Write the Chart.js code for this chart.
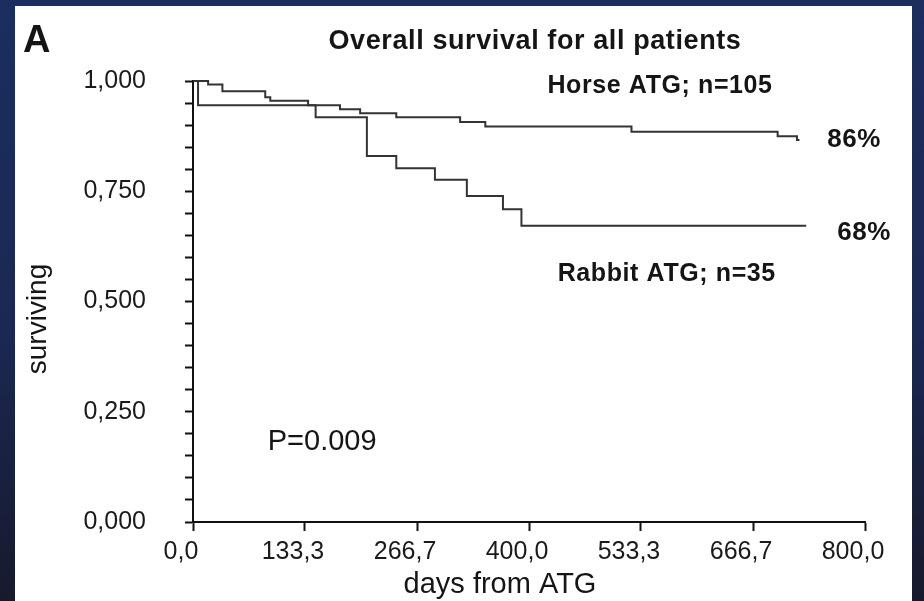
<!DOCTYPE html>
<html>
<head>
<meta charset="utf-8">
<script src="https://cdn.jsdelivr.net/npm/chart.js@4.4.1/dist/chart.umd.min.js"></script>
<style>
  html, body { margin: 0; padding: 0; }
  body {
    width: 924px; height: 601px; position: relative; overflow: hidden;
    background: linear-gradient(180deg, #1b2e5f 0%, #1b2853 55%, #171a2d 100%);
  }
  #panel { position: absolute; left: 15px; top: 6px; width: 897px; height: 595px; background: #fff; }
  #survival-chart { position: absolute; left: 0; top: 0; }
</style>
</head>
<body>
<div id="panel"></div>
<canvas id="survival-chart" width="924" height="601"></canvas>
<script>
// Kaplan-Meier steps (days, fraction surviving)
const horseDays = [0, 18, 35, 86, 92, 137, 175, 199, 242, 318, 348, 522, 696, 719, 722];
const horseSurv = [1.0, 0.992, 0.977, 0.963, 0.955, 0.945, 0.936, 0.927, 0.918, 0.907, 0.897, 0.885, 0.875, 0.866, 0.866];

const rabbitDays = [0, 6, 146, 207, 242, 288, 326, 369, 391, 730];
const rabbitSurv = [1.0, 0.945, 0.918, 0.830, 0.802, 0.776, 0.739, 0.709, 0.672, 0.672];

const xTicks = [0, 133.3, 266.7, 400, 533.3, 666.7, 800];
const xTickLabels = ['0,0', '133,3', '266,7', '400,0', '533,3', '666,7', '800,0'];
const yTickLabels = ['0,000', '0,250', '0,500', '0,750', '1,000'];

const panelLetter = 'A';
const chartTitle = 'Overall survival for all patients';
const xTitle = 'days from ATG';
const yTitle = 'surviving';
const horseLabel = 'Horse ATG; n=105';
const rabbitLabel = 'Rabbit ATG; n=35';
const horseEnd = '86%';
const rabbitEnd = '68%';
const pValue = 'P=0.009';

const FONT = '"Liberation Sans", Arial, Helvetica, sans-serif';
Chart.defaults.font.family = FONT;

const toPoints = (days, surv) => days.map((d, i) => ({ x: d, y: surv[i] }));

// free text (panel letter, title, axis names, curve labels)
const textLabels = {
    id: 'textLabels',
    afterDraw(chart) {
        const { ctx, scales: { x, y } } = chart;
        ctx.save();
        ctx.fillStyle = '#151515';
        ctx.textBaseline = 'middle';

        ctx.font = 'bold 38px ' + FONT;
        ctx.textAlign = 'left';
        ctx.fillText(panelLetter, 23, 42);

        ctx.letterSpacing = '0.6px';
        ctx.font = 'bold 27px ' + FONT;
        ctx.textAlign = 'center';
        ctx.fillText(chartTitle, 535, 42);

        ctx.font = 'bold 25px ' + FONT;
        ctx.fillText(horseLabel, x.getPixelForValue(556), y.getPixelForValue(0.988));
        ctx.fillText(rabbitLabel, x.getPixelForValue(564), y.getPixelForValue(0.563));
        ctx.font = 'bold 26px ' + FONT;
        ctx.fillText(horseEnd, x.getPixelForValue(787), y.getPixelForValue(0.867));
        ctx.fillText(rabbitEnd, x.getPixelForValue(799), y.getPixelForValue(0.655));
        ctx.letterSpacing = '0px';

        ctx.font = '29px ' + FONT;
        ctx.textAlign = 'left';
        ctx.fillText(pValue, x.getPixelForValue(89), y.getPixelForValue(0.181));

        ctx.textAlign = 'center';
        ctx.fillText(xTitle, 500, 585);

        ctx.translate(38, 319);
        ctx.rotate(-Math.PI / 2);
        ctx.font = '28px ' + FONT;
        ctx.fillText(yTitle, 0, 0);
        ctx.restore();
    }
};

const ctx = document.getElementById('survival-chart');

let survivalChart = new Chart(ctx, {
    type: 'line',
    data: {
        datasets: [{
            label: horseLabel,
            data: toPoints(horseDays, horseSurv),
            stepped: 'before',
            borderColor: '#333',
            borderWidth: 2,
            pointRadius: 0,
            fill: false,
            clip: false,
        }, {
            label: rabbitLabel,
            data: toPoints(rabbitDays, rabbitSurv),
            stepped: 'before',
            borderColor: '#333',
            borderWidth: 2,
            pointRadius: 0,
            fill: false,
            clip: false,
        }]
    },
    options: {
        responsive: false,
        animation: false,
        layout: { padding: { left: 15, top: 81, right: 59, bottom: 0 } },
        plugins: {
            legend: { display: false },
            tooltip: { enabled: false },
        },
        scales: {
            x: {
                type: 'linear',
                min: 0,
                max: 800,
                afterBuildTicks: s => { s.ticks = xTicks.map(v => ({ value: v })); },
                afterFit: s => { s.height = 79; },
                border: { display: true, color: '#111', width: 2 },
                grid: { drawOnChartArea: false, drawTicks: true, tickLength: 9, tickWidth: 2, tickColor: '#111' },
                ticks: {
                    padding: 6,
                    labelOffset: -12,
                    autoSkip: false,
                    maxRotation: 0,
                    color: '#1a1a1a',
                    font: { size: 25 },
                    callback: (v, i) => xTickLabels[i],
                },
            },
            y: {
                min: 0,
                max: 1,
                afterFit: s => { s.width = 178; },
                border: { display: true, color: '#111', width: 2 },
                grid: { drawOnChartArea: false, drawTicks: true, tickLength: 8, tickWidth: 2, tickColor: '#111' },
                ticks: {
                    stepSize: 0.05,
                    padding: 39,
                    autoSkip: false,
                    color: '#1a1a1a',
                    font: { size: 25 },
                    callback: v => {
                        const k = Math.round(v / 0.25);
                        return Math.abs(v - k * 0.25) < 1e-6 ? yTickLabels[k] : '';
                    },
                },
            },
        },
    },
    plugins: [textLabels],
});
</script>
</body>
</html>
